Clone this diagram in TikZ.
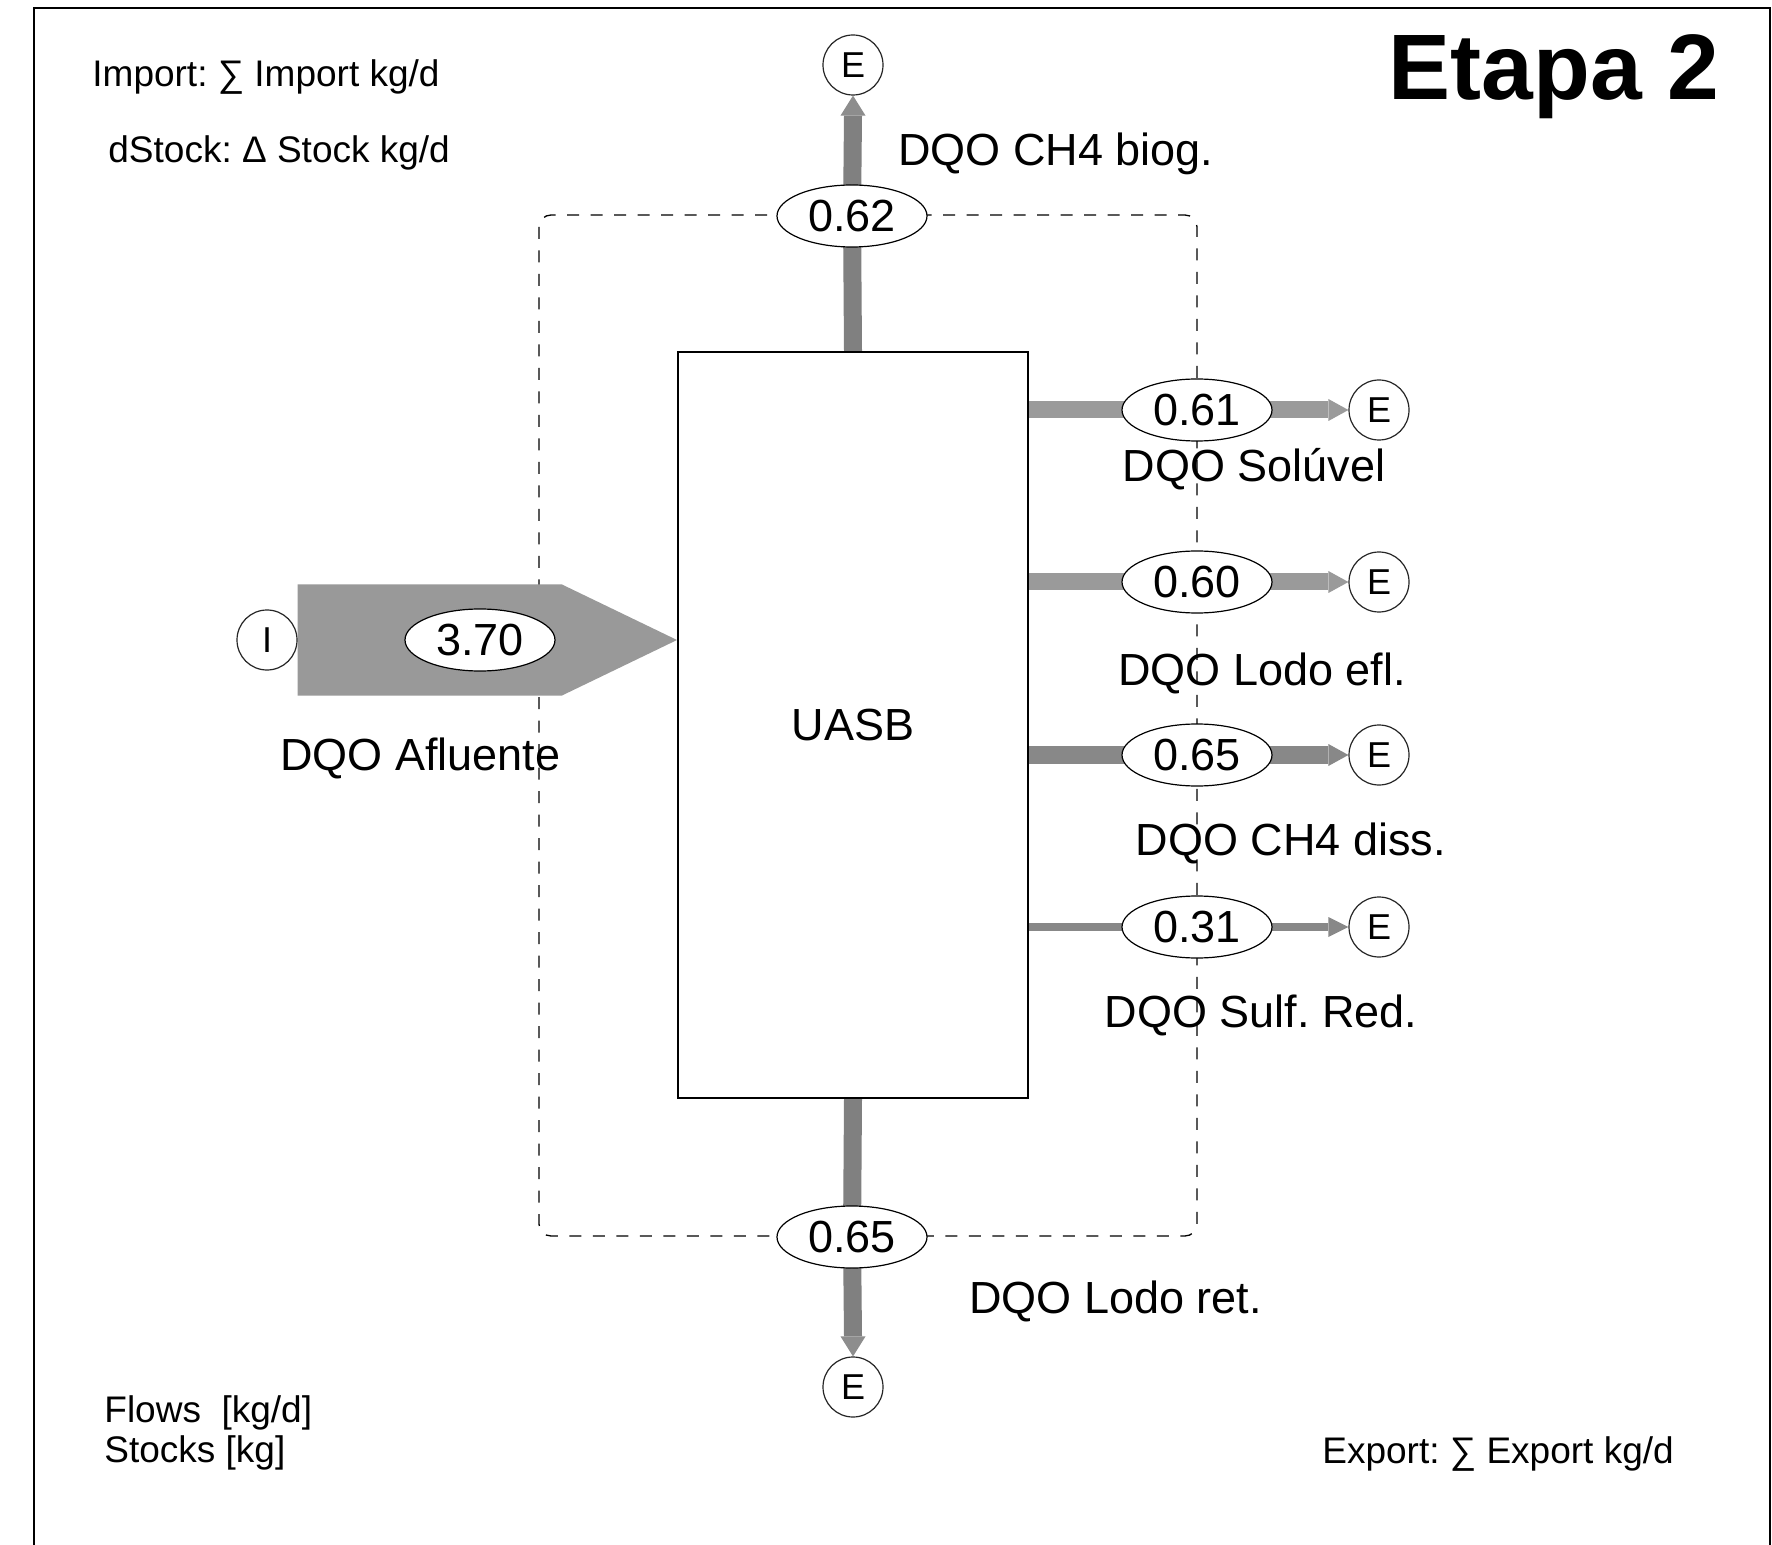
\documentclass[tikz,border=0pt]{standalone}
\usepackage{fontspec}
\setmainfont{Liberation Sans}
\usetikzlibrary{shapes.geometric,calc,backgrounds}
\definecolor{flA}{HTML}{808080}
\definecolor{flB}{HTML}{9A9A9A}
\definecolor{flC}{HTML}{888888}
\definecolor{inC}{HTML}{999999}
\frenchspacing
\tikzset{
  lbl/.style={font=\fontsize{22.5}{27}\selectfont, inner sep=0pt},
  small/.style={font=\fontsize{18.5}{20.5}\selectfont, inner sep=0pt},
  val/.style={ellipse, draw=black, line width=0.6pt, fill=white, minimum width=75pt, minimum height=31pt, inner sep=0pt, font=\fontsize{22.5}{27}\selectfont},
  endc/.style={circle, draw=black!85, line width=0.6pt, fill=white, minimum size=30pt, inner sep=0pt, font=\fontsize{18}{20}\selectfont},
  proc/.style={rectangle, draw=black, line width=1pt, fill=white, minimum width=175pt, minimum height=373pt, inner sep=0pt, font=\fontsize{22.5}{27}\selectfont},
  sysb/.style={draw=black, line width=0.65pt, dash pattern=on 6pt off 5.75pt, rounded corners=6pt},
  shaft/.style={line width=#1},
}
\begin{document}
\begin{tikzpicture}[x=0.5pt,y=-0.5pt]
\useasboundingbox (0,0) rectangle (1772,1545);

% nodes
\node[proc] (uasb) at (853,725) {UASB};
\node[endc] (inI) at (267,640) {I};
\node[val] (vin) at (480,640) {3.70};
\node[val] (v1) at (852,216) {0.62};
\node[endc] (eT) at (853,65) {E};
\node[val] (v6) at (852,1237) {0.65};
\node[endc] (eB) at (853,1387) {E};
\node[val] (r1) at (1197,410) {0.61};
\node[val] (r2) at (1197,582) {0.60};
\node[val] (r3) at (1197,755) {0.65};
\node[val] (r4) at (1197,927) {0.31};
\node[endc] (e1) at (1379,410) {E};
\node[endc] (e2) at (1379,582) {E};
\node[endc] (e3) at (1379,755) {E};
\node[endc] (e4) at (1379,927) {E};

\begin{pgfonlayer}{background}
\fill[white] (0,0) rectangle (1772,1545);
% frame
\draw[line width=1pt] (34,1545) -- (34,8) -- (1770,8) -- (1770,1545);
% system boundary
\draw[sysb] (539,215) rectangle (1197,1236);
% input arrow
\fill[inC] ($(inI.east)+(0,27.75pt)$) -- ($(uasb.west |- inI.east)+(-57.5pt,27.75pt)$)
  -- (uasb.west |- inI.east) -- ($(uasb.west |- inI.east)+(-57.5pt,-27.75pt)$)
  -- ($(inI.east)+(0,-27.75pt)$) -- cycle;
% top flow
\draw[flA, shaft=9pt] (uasb.north) -- (v1.center);
\draw[flA, shaft=9pt] (v1.center) -- ($(eT.south)+(0,-10pt)$);
\fill[flA!90!white] (eT.south) -- ++(-6.25pt,-10pt) -- ++(12.5pt,0) -- cycle;
% bottom flow
\draw[flA, shaft=9pt] (uasb.south) -- (v6.center);
\draw[flA, shaft=9pt] (v6.center) -- ($(eB.north)+(0,10pt)$);
\fill[flA!90!white] (eB.north) -- ++(-6.25pt,10pt) -- ++(12.5pt,0) -- cycle;
% right flows
\draw[flB, shaft=8.5pt] (uasb.east |- r1) -- (r1.center);
\draw[flB, shaft=8.5pt] (r1.center) -- ($(e1.west)+(-10pt,0)$);
\fill[flB] (e1.west) -- ++(-10pt,5.5pt) -- ++(0,-11pt) -- cycle;
\draw[flB, shaft=8.5pt] (uasb.east |- r2) -- (r2.center);
\draw[flB, shaft=8.5pt] (r2.center) -- ($(e2.west)+(-10pt,0)$);
\fill[flB] (e2.west) -- ++(-10pt,5.5pt) -- ++(0,-11pt) -- cycle;
\draw[flC, shaft=9pt] (uasb.east |- r3) -- (r3.center);
\draw[flC, shaft=9pt] (r3.center) -- ($(e3.west)+(-10pt,0)$);
\fill[flC] (e3.west) -- ++(-10pt,5.5pt) -- ++(0,-11pt) -- cycle;
\draw[flC, shaft=3.75pt] (uasb.east |- r4) -- (r4.center);
\draw[flC, shaft=3.75pt] (r4.center) -- ($(e4.west)+(-10pt,0)$);
\fill[flC] (e4.west) -- ++(-10pt,5pt) -- ++(0,-10pt) -- cycle;
\end{pgfonlayer}

% labels
\node[lbl, anchor=base west] (tBiog) at (898,166) {DQO CH4 biog.};
\node[lbl, anchor=base] (tSol) at (1254,482) {DQO Solúvel};
\node[lbl, anchor=base] (tEfl) at (1262,685) {DQO Lodo efl.};
\node[lbl, anchor=base] (tDiss) at (1291,855) {DQO CH4 diss.};
\node[lbl, anchor=base] (tSulf) at (1261,1027) {DQO Sulf. Red.};
\node[lbl, anchor=base west] (tRet) at (969,1313) {DQO Lodo ret.};
\node[lbl, anchor=base west] (tAfl) at (280,770) {DQO Afluente};

\node[small, anchor=base west] (tImp) at (92,87) {Import: ∑ Import kg/d};
\node[small, anchor=base west] (tDst) at (108,163) {dStock: Δ Stock kg/d};
\node[small, anchor=base west] (tFlo) at (104,1422) {Flows\ \ [kg/d]};
\node[small, anchor=base west] (tSto) at (104,1462) {Stocks [kg]};
\node[small, anchor=base west] (tExp) at (1322,1463) {Export: ∑ Export kg/d};
\node[inner sep=0pt, anchor=base east, font=\fontsize{46.5}{52}\selectfont\bfseries] (tEtapa) at (1720,100) {Etapa 2};
\end{tikzpicture}
\end{document}
